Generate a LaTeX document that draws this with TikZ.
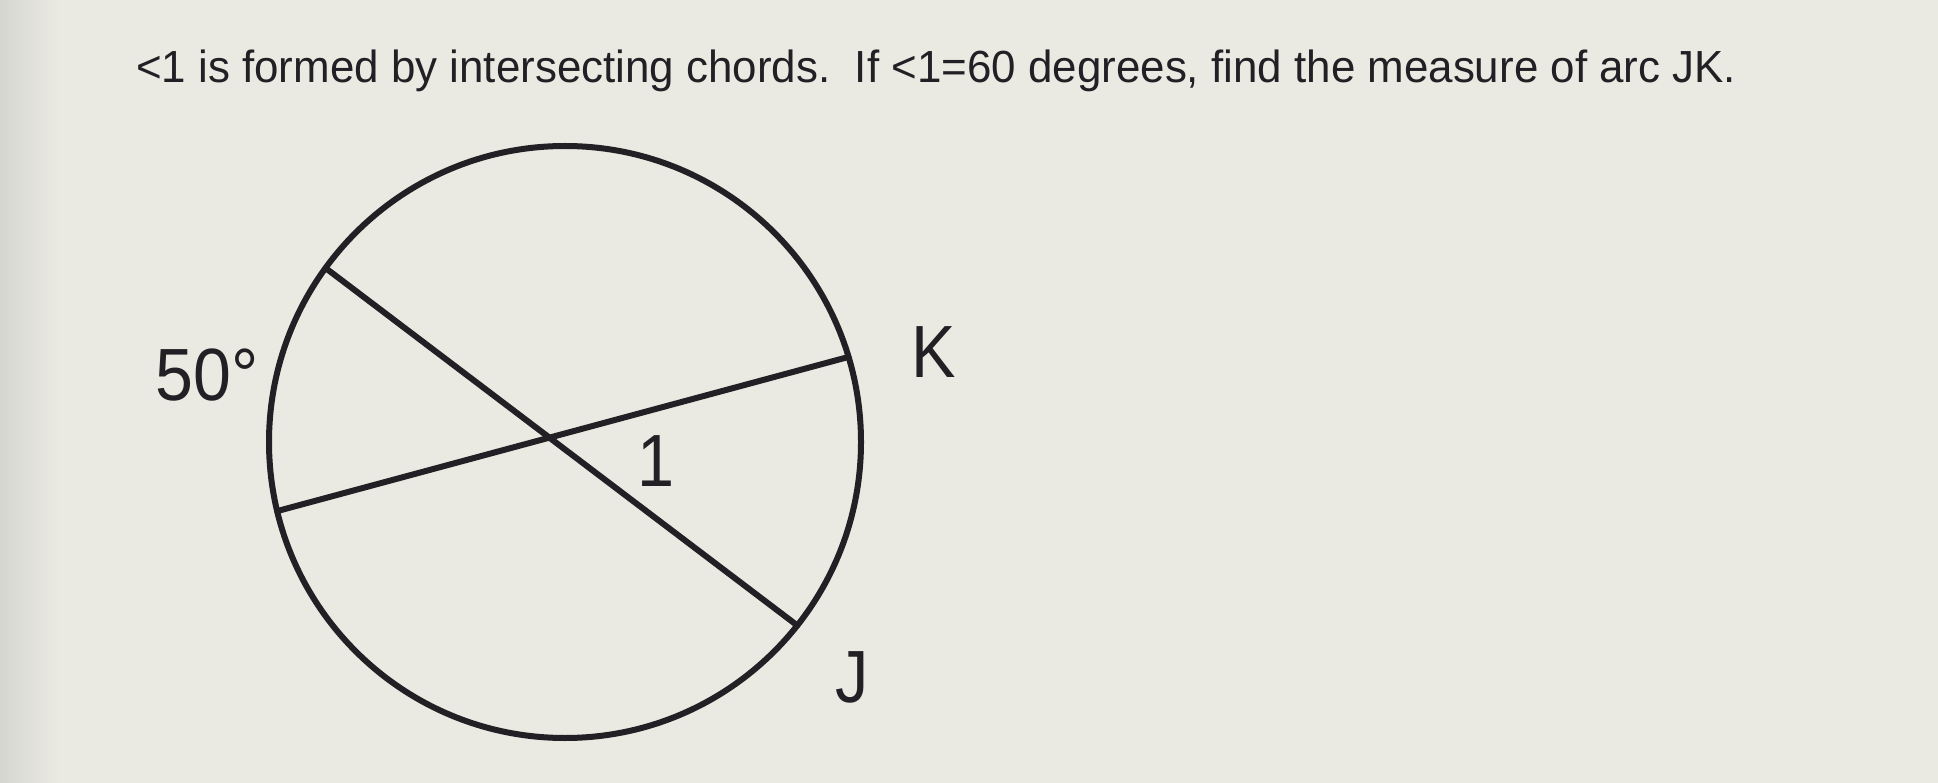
\documentclass[tikz,border=0pt]{standalone}
\usepackage{fontspec}
\usepackage{graphicx}
\usetikzlibrary{calc}
\setmainfont{Liberation Sans}
\definecolor{bgc}{RGB}{234,234,227}
\definecolor{bgedge}{RGB}{214,214,209}
\definecolor{ink}{RGB}{34,32,36}
\tikzset{
  chordline/.style={draw=ink, line width=6pt, line cap=round},
  lbl/.style={inner sep=0pt, text=ink, font=\fontsize{74}{80}\selectfont},
  titletext/.style={inner sep=0pt, text=ink, anchor=base west}
}
\begin{document}
\begin{tikzpicture}[x=1pt,y=-1pt]
\fill[bgc] (0,0) rectangle (1938,783);
\shade[left color=bgedge, right color=bgc] (0,0) rectangle (60,783);
\useasboundingbox (0,0) rectangle (1938,783);
\node[titletext] (title) at (136,83) {\resizebox{1600pt}{\height}{\fontsize{45}{52}\selectfont <1 is formed by intersecting chords.\ \ If <1=60 degrees, find the measure of arc JK.}};
\coordinate (c) at (565,442);
\draw[chordline] (c) circle[radius=296];
\coordinate (a) at ($(c)+(-144:296)$);
\coordinate (k) at ($(c)+(-16.7:296)$);
\coordinate (l) at ($(c)+(-193.5:296)$);
\coordinate (j) at ($(c)+(38.3:296)$);
\draw[chordline] (a) -- (j);
\draw[chordline] (l) -- (k);
\node[lbl] (fifty) at (207,375) {\scalebox{0.92}[1]{50°}};
\node[lbl] (klbl) at (934,352) {\scalebox{0.9}[1]{K}};
\node[lbl] (one) at (656,461) {\scalebox{0.9}[1]{1}};
\node[lbl] (jlbl) at (852,677) {\scalebox{0.9}[1]{J}};
\end{tikzpicture}
\end{document}
